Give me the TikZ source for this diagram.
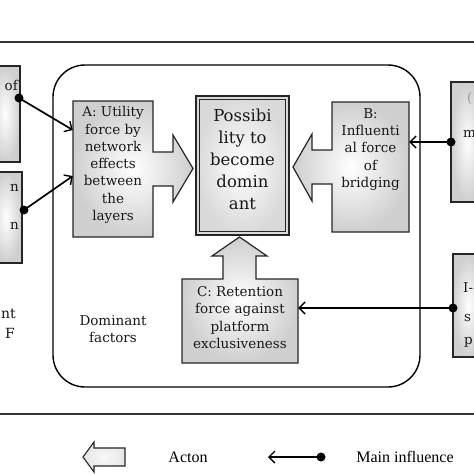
\documentclass[tikz,border=0pt]{standalone}
\usepackage{fontspec}
\setmainfont{DejaVu Serif}
\newfontfamily\legfont{Liberation Serif}
\usetikzlibrary{arrows.meta}
\begin{document}
\begin{tikzpicture}[x=1pt,y=-1pt,
  shadebox/.style={draw=black!85, line width=1.2pt, inner color=white, outer color=gray!38},
  boxtext/.style={align=center, font=\fontsize{13.5}{17.3}\selectfont, inner sep=0pt, text=black!90},
  bigtext/.style={align=center, font=\fontsize{16.5}{22}\selectfont, inner sep=0pt, text=black!90},
  fragtext/.style={font=\fontsize{13.5}{17}\selectfont, inner sep=0pt, text=black!90},
  influence/.style={line width=1.7pt, -{Straight Barb[length=6pt,width=12pt,line width=1.4pt]}},
  dotnode/.style={circle, fill=black, inner sep=0pt, minimum size=9pt},
  legtext/.style={font=\legfont\fontsize{16}{18}\selectfont, inner sep=0pt}]
\useasboundingbox (0,0) rectangle (474,474);
\clip (0,0) rectangle (474,474);
\fill[white] (0,0) rectangle (474,474);

% frame lines
\draw[line width=2pt, black!80] (0,42) -- (474,42);
\draw[line width=2pt, black!80] (0,414) -- (474,414);

% dominant factors container
\draw[line width=1.4pt, rounded corners=32pt] (53,65) rectangle (420,387);
\node[boxtext, font=\fontsize{13.5}{17.5}\selectfont] (dom) at (113,329) {Dominant\\factors};

% outside boxes (cut by the picture edge)
\shade[shadebox] (-10,66) rectangle (20,162);
\shade[shadebox] (-10,172) rectangle (22,263);
\shade[shadebox] (451,82) rectangle (484,202);
\shade[shadebox] (453,254) rectangle (484,357);
\node[fragtext, anchor=east] (l1a) at (18,85) {of};
\node[fragtext, anchor=east] (l2a) at (19,188) {n};
\node[fragtext, anchor=east] (l2b) at (19,226) {n};
\node[fragtext, anchor=west, text=black!40] (r1a) at (467,98) {(};
\node[fragtext, anchor=west] (r1b) at (463,134) {m};
\node[fragtext, anchor=west] (r2a) at (463,288) {I-};
\node[fragtext, anchor=west] (r2b) at (464,318) {s};
\node[fragtext, anchor=west] (r2c) at (464,342) {p};
\node[fragtext, anchor=east, font=\fontsize{14}{17}\selectfont] (lb1) at (16,314) {nt};
\node[fragtext, anchor=east, font=\fontsize{14}{17}\selectfont] (lb2) at (15,333) {F};

% A with block arrow to the right
\shade[shadebox] (73,101) -- (153,101) -- (153,152) -- (173,152) -- (173,135) -- (193,168.5)
  -- (173,202) -- (173,186) -- (153,186) -- (153,237) -- (73,237) -- cycle;
\node[minimum width=80pt, minimum height=136pt, inner sep=0pt] (A) at (113,169) {};
\node[boxtext] (At) at (113,165) {A: Utility\\force by\\network\\effects\\between\\the\\layers};

% B with block arrow to the left
\shade[shadebox] (409,102) -- (332,102) -- (332,150) -- (312,150) -- (312,134) -- (293,167)
  -- (312,201) -- (312,184) -- (332,184) -- (332,232) -- (409,232) -- cycle;
\node[minimum width=77pt, minimum height=130pt, inner sep=0pt] (B) at (370.5,167) {};
\node[boxtext] (Bt) at (370.5,149.5) {B:\\Influenti\\al force\\of\\bridging};

% C with block arrow upwards
\shade[shadebox] (182,363) -- (298,363) -- (298,279) -- (256,279) -- (256,256) -- (267,256)
  -- (239.5,237) -- (212,256) -- (223,256) -- (223,279) -- (182,279) -- cycle;
\node[minimum width=116pt, minimum height=84pt, inner sep=0pt] (C) at (240,321) {};
\node[boxtext] (Ct) at (240,317.5) {C: Retention\\force against\\platform\\exclusiveness};

% central box
\shade[draw=black!85, line width=1.3pt, inner color=white, outer color=gray!30] (196,96) rectangle (289,235);
\draw[line width=1pt, black!85] (199.5,99.5) rectangle (285.5,231.5);
\node[minimum width=93pt, minimum height=139pt, inner sep=0pt] (P) at (242.5,165.5) {};
\node[bigtext] (Pt) at (242.5,159) {Possibi\\lity to\\become\\domin\\ant};

% main influences
\node[dotnode] (d1) at (19,98) {};
\node[dotnode] (d2) at (24,210) {};
\node[dotnode] (d3) at (451,142) {};
\node[dotnode] (d4) at (453,308) {};
\draw[influence] (d1.center) -- ([yshift=39pt]A.west);
\draw[influence] (d2.center) -- ([yshift=-7pt]A.west);
\draw[influence] (d3.center) -- (d3.center -| B.east);
\draw[influence] (d4.center) -- (d4.center -| C.east);

% legend
\shade[draw=black!85, line width=1.1pt, inner color=gray!5, outer color=gray!20]
  (83,457) -- (94,442) -- (94,448) -- (125,448) -- (125,466) -- (94,466) -- (94,472) -- cycle;
\node[legtext] (acton) at (188,457) {Acton};
\node[dotnode] (lg1) at (321,457) {};
\coordinate (lg2) at (268,457);
\draw[influence] (lg1.center) -- (lg2);
\node[legtext] (mi) at (405,457) {Main influence};
\end{tikzpicture}
\end{document}
